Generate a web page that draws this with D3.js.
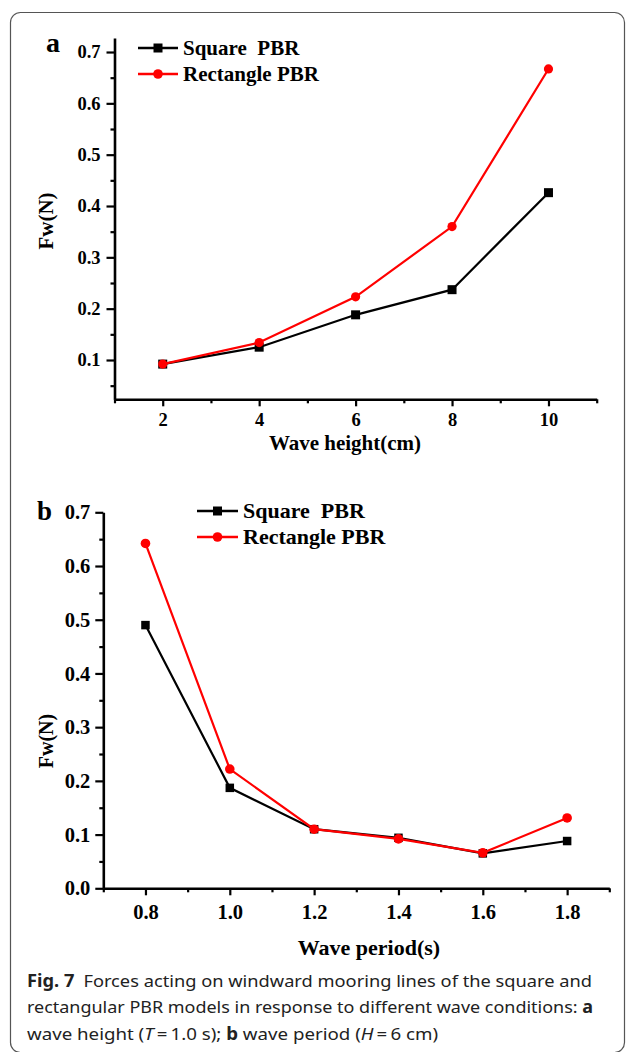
<!DOCTYPE html>
<html>
<head>
<meta charset="utf-8">
<script src="https://cdn.jsdelivr.net/npm/d3@7"></script>
<style>
  html, body { margin: 0; padding: 0; background: #fff; }
  svg { display: block; }
</style>
</head>
<body>
<svg id="chart" width="630" height="1052"></svg>
<script>
// ---------- data ----------
const waveHeights = [2, 4, 6, 8, 10];
const squareA = [0.092, 0.125, 0.188, 0.237, 0.426];
const rectA   = [0.092, 0.134, 0.223, 0.360, 0.667];

const wavePeriods = [0.8, 1.0, 1.2, 1.4, 1.6, 1.8];
const squareB = [0.490, 0.187, 0.110, 0.094, 0.065, 0.088];
const rectB   = [0.642, 0.222, 0.110, 0.092, 0.066, 0.131];

const seriesNames = ["Square  PBR", "Rectangle PBR"];
const yTicksA = [0.1, 0.2, 0.3, 0.4, 0.5, 0.6, 0.7];
const yMinorA = [0.05, 0.15, 0.25, 0.35, 0.45, 0.55, 0.65];
const xMinorA = [1, 3, 5, 7, 9, 11];
const yTicksB = [0.0, 0.1, 0.2, 0.3, 0.4, 0.5, 0.6, 0.7];
const yMinorB = [0.05, 0.15, 0.25, 0.35, 0.45, 0.55, 0.65];
const xMinorB = [0.7, 0.9, 1.1, 1.3, 1.5, 1.7, 1.9];

const svg = d3.select("#chart");
const SERIF = "'Liberation Serif', 'Times New Roman', serif";

// frame
svg.append("rect")
  .attr("x", 10.5).attr("y", 12.5).attr("width", 614).attr("height", 1040)
  .attr("rx", 10).attr("ry", 10)
  .attr("fill", "none").attr("stroke", "#555").attr("stroke-width", 1.2);

function drawPanel(o) {
  const g = svg.append("g");
  const x = d3.scaleLinear().domain(o.xDomain).range(o.xRange);
  const y = d3.scaleLinear().domain(o.yDomain).range(o.yRange);

  // minor ticks
  const xMinorAxis = d3.axisBottom(x).tickValues(o.xMinor).tickSize(4).tickFormat("");
  const yMinorAxis = d3.axisLeft(y).tickValues(o.yMinor).tickSize(4).tickFormat("");
  g.append("g").attr("transform", `translate(0,${o.yRange[0]})`).call(xMinorAxis)
    .call(s => s.select(".domain").remove());
  g.append("g").attr("transform", `translate(${o.xRange[0]},0)`).call(yMinorAxis)
    .call(s => s.select(".domain").remove());

  // major axes
  const xAxis = d3.axisBottom(x).tickValues(o.xTicks).tickSize(7).tickSizeOuter(0)
    .tickPadding(o.xPad).tickFormat(o.xFmt);
  const yAxis = d3.axisLeft(y).tickValues(o.yTicks).tickSize(8).tickSizeOuter(0)
    .tickPadding(o.yPad).tickFormat(d3.format(".1f"));
  const gx = g.append("g").attr("transform", `translate(0,${o.yRange[0]})`).call(xAxis);
  const gy = g.append("g").attr("transform", `translate(${o.xRange[0]},0)`).call(yAxis);

  g.selectAll(".tick line").attr("stroke", "#000").attr("stroke-width", 2.2);
  g.selectAll(".domain").attr("stroke", "#000").attr("stroke-width", 2.6);
  [gx, gy].forEach(a => a.selectAll("text")
    .attr("font-family", SERIF).attr("font-weight", "bold")
    .attr("font-size", o.tickFont).attr("fill", "#000"));

  // lines + markers
  const series = [
    { name: seriesNames[0], vals: o.square, color: "#000", shape: "square" },
    { name: seriesNames[1], vals: o.rect,   color: "#ff0000", shape: "circle" }
  ];
  const line = d3.line().x(d => x(d[0])).y(d => y(d[1]));
  series.forEach(s => {
    const pts = o.xs.map((v, i) => [v, s.vals[i]]);
    g.append("path").datum(pts).attr("d", line)
      .attr("fill", "none").attr("stroke", s.color).attr("stroke-width", 2.2);
    if (s.shape === "square") {
      g.selectAll(null).data(pts).enter().append("rect")
        .attr("x", d => x(d[0]) - o.sq / 2).attr("y", d => y(d[1]) - o.sq / 2)
        .attr("width", o.sq).attr("height", o.sq).attr("fill", s.color);
    } else {
      g.selectAll(null).data(pts).enter().append("circle")
        .attr("cx", d => x(d[0])).attr("cy", d => y(d[1]))
        .attr("r", o.r).attr("fill", s.color);
    }
  });

  // legend
  series.forEach((s, i) => {
    const ly = o.legY[i];
    g.append("line").attr("x1", o.legX0).attr("x2", o.legX1)
      .attr("y1", ly).attr("y2", ly).attr("stroke", s.color).attr("stroke-width", 2.4);
    const mx = (o.legX0 + o.legX1) / 2;
    if (s.shape === "square") {
      g.append("rect").attr("x", mx - 4.5).attr("y", ly - 4.5)
        .attr("width", 9).attr("height", 9).attr("fill", s.color);
    } else {
      g.append("circle").attr("cx", mx).attr("cy", ly).attr("r", 4.8).attr("fill", s.color);
    }
    g.append("text").attr("x", o.legTextX).attr("y", ly + o.legFont * 0.33)
      .attr("font-family", SERIF).attr("font-weight", "bold")
      .attr("font-size", o.legFont).attr("fill", "#000")
      .style("white-space", "pre").attr("xml:space", "preserve")
      .text(s.name);
  });

  // axis titles
  g.append("text").attr("x", o.xTitlePos[0]).attr("y", o.xTitlePos[1])
    .attr("text-anchor", "middle").attr("font-family", SERIF).attr("font-weight", "bold")
    .attr("font-size", o.xTitleFont).text(o.xTitle);
  g.append("text")
    .attr("transform", `translate(${o.yTitlePos[0]},${o.yTitlePos[1]}) rotate(-90)`)
    .attr("text-anchor", "middle").attr("font-family", SERIF).attr("font-weight", "bold")
    .attr("font-size", o.yTitleFont).text("Fw(N)");

  // panel letter
  g.append("text").attr("x", o.letterPos[0]).attr("y", o.letterPos[1])
    .attr("font-family", SERIF).attr("font-weight", "bold")
    .attr("font-size", o.letterFont).text(o.letter);
}

drawPanel({
  xs: waveHeights, square: squareA, rect: rectA,
  xDomain: [1, 11], xRange: [114.5, 596.7],
  yDomain: [0.02344, 0.7273], yRange: [399.3, 38],
  xTicks: waveHeights, xMinor: xMinorA, yTicks: yTicksA, yMinor: yMinorA,
  xFmt: d3.format("d"), xPad: 7, yPad: 6, tickFont: 18.5,
  sq: 9, r: 4.6,
  legX0: 138, legX1: 178, legTextX: 183, legY: [48, 74], legFont: 21,
  xTitle: "Wave height(cm)", xTitlePos: [345, 450], xTitleFont: 21,
  yTitlePos: [53, 221], yTitleFont: 21,
  letter: "a", letterPos: [46, 52], letterFont: 28
});

drawPanel({
  xs: wavePeriods, square: squareB, rect: rectB,
  xDomain: [0.7, 1.9], xRange: [103.3, 609.3],
  yDomain: [0, 0.7], yRange: [888.3, 512.3],
  xTicks: wavePeriods, xMinor: xMinorB, yTicks: yTicksB, yMinor: yMinorB,
  xFmt: d3.format(".1f"), xPad: 9, yPad: 5, tickFont: 20.5,
  sq: 8.5, r: 4.8,
  legX0: 197, legX1: 238, legTextX: 243, legY: [511, 537], legFont: 22,
  xTitle: "Wave period(s)", xTitlePos: [369, 955], xTitleFont: 22,
  yTitlePos: [53, 741], yTitleFont: 20,
  letter: "b", letterPos: [37, 520], letterFont: 27
});

// caption
const SANS = "'Noto Sans', 'Open Sans', sans-serif";
const cap = svg.append("g").attr("font-family", SANS).attr("font-size", 17).attr("fill", "#222");
const l1 = cap.append("text").attr("x", 27).attr("y", 987)
  .attr("textLength", 565).attr("lengthAdjust", "spacingAndGlyphs");
l1.append("tspan").attr("font-weight", "bold").text("Fig. 7");
l1.append("tspan").text("\u2002Forces acting on windward mooring lines of the square and");
const l2 = cap.append("text").attr("x", 27).attr("y", 1013)
  .attr("textLength", 566).attr("lengthAdjust", "spacingAndGlyphs");
l2.append("tspan").text("rectangular PBR models in response to different wave conditions: ");
l2.append("tspan").attr("font-weight", "bold").text("a");
const l3 = cap.append("text").attr("x", 27).attr("y", 1040)
  .attr("textLength", 411).attr("lengthAdjust", "spacingAndGlyphs");
l3.append("tspan").text("wave height (");
l3.append("tspan").attr("font-style", "italic").text("T");
l3.append("tspan").text("\u2009=\u20091.0 s); ");
l3.append("tspan").attr("font-weight", "bold").text("b");
l3.append("tspan").text(" wave period (");
l3.append("tspan").attr("font-style", "italic").text("H");
l3.append("tspan").text("\u2009=\u20096 cm)");
</script>
</body>
</html>
